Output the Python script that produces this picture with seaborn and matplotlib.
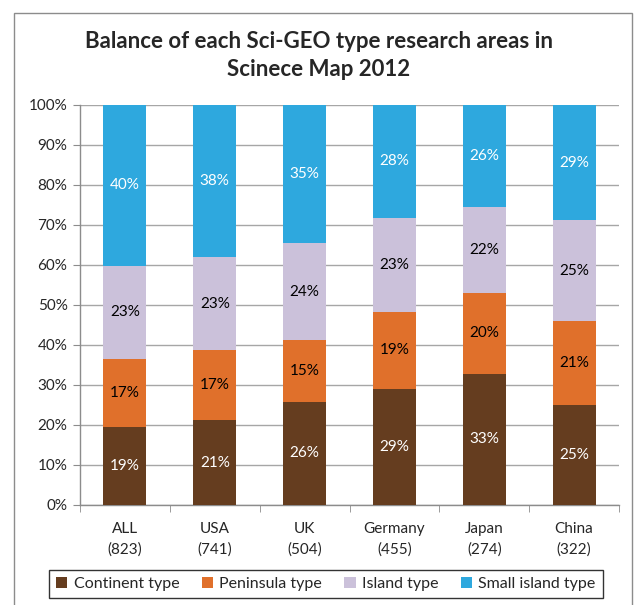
import numpy as np
import matplotlib
matplotlib.use("Agg")
import matplotlib.pyplot as plt
import seaborn as sns
from matplotlib.patches import Patch, Rectangle

# data (percent of each country's research areas)
categories = ["ALL\n(823)", "USA\n(741)", "UK\n(504)", "Germany\n(455)", "Japan\n(274)", "China\n(322)"]
series_names = ["Continent type", "Peninsula type", "Island type", "Small island type"]
continent = [19.4, 21.2, 25.8, 29.0, 32.8, 25.1]
peninsula = [17.1, 17.4, 15.4, 19.3, 20.1, 20.8]
island = [23.3, 23.4, 24.2, 23.4, 21.5, 25.2]
small_island = [40.2, 38.0, 34.6, 28.3, 25.6, 28.9]

colors = ["#653D1F", "#E0702B", "#CBC1DA", "#2EA8DE"]
label_colors = ["white", "black", "black", "white"]

sns.set_style("white")
plt.rcParams["font.family"] = ["Lato", "DejaVu Sans"]

fig = plt.figure(figsize=(6.38, 6.05), dpi=100)
ax = fig.add_axes([80 / 638, 1 - 505 / 605, (619 - 80) / 638, (505 - 104.7) / 605])

bottom = np.zeros(len(categories))
for name, vals, col, tcol in zip(series_names, [continent, peninsula, island, small_island], colors, label_colors):
    vals = np.array(vals)
    sns.barplot(x=categories, y=vals, bottom=bottom, color=col, saturation=1, width=0.48,
                ax=ax, zorder=3, edgecolor="none", linewidth=0)
    for i, v in enumerate(vals):
        ax.text(i, bottom[i] + v / 2, f"{v:.0f}%", ha="center", va="center",
                color=tcol, fontsize=11, zorder=4)
    bottom += vals

ax.set_ylim(0, 100)
ax.set_xlim(-0.5, len(categories) - 0.5)
ax.set_yticks(np.arange(0, 101, 10))
ax.set_yticklabels([f"{t}%" for t in range(0, 101, 10)])
ax.yaxis.grid(True, color="#A6A6A6", linewidth=1, zorder=0)
ax.set_axisbelow(True)
for s in ["top", "right"]:
    ax.spines[s].set_visible(False)
for s in ["left", "bottom"]:
    ax.spines[s].set_color("#8C8C8C")
    ax.spines[s].set_linewidth(1)
ax.tick_params(axis="y", length=5, color="#8C8C8C", labelsize=11, pad=4, left=True)
ax.set_xticks(np.arange(len(categories)))
ax.set_xticklabels(categories, fontsize=11, linespacing=1.55)
ax.tick_params(axis="x", length=0, pad=12)
# tick marks between categories
ax.set_xticks(np.arange(-0.5, len(categories), 1), minor=True)
ax.tick_params(axis="x", which="minor", length=5, color="#8C8C8C", bottom=True)
ax.set_xlabel("")
ax.set_ylabel("")

fig.text(0.5, 1 - 55.5 / 605, "Balance of each Sci-GEO type research areas in\nScinece Map 2012",
         ha="center", va="center", fontsize=16, fontweight="bold", linespacing=1.4)

handles = [Patch(facecolor=c, edgecolor="none") for c in colors]
leg = fig.legend(handles, series_names, loc="center", ncol=4,
                 bbox_to_anchor=(326 / 638, 1 - 584 / 605), fontsize=11.5,
                 frameon=True, fancybox=False, handlelength=0.7, handleheight=0.7,
                 handletextpad=0.4, columnspacing=1.4, borderpad=0.45)
leg.get_frame().set_edgecolor("black")
leg.get_frame().set_linewidth(1)

# outer chart border (bottom edge runs off the picture)
fig.add_artist(Rectangle((14 / 638, -0.1), (632 - 14) / 638, 1 - 13 / 605 + 0.1,
                         transform=fig.transFigure, fill=False, edgecolor="#8C8C8C", linewidth=1))

fig.savefig("out.png", dpi=100)
